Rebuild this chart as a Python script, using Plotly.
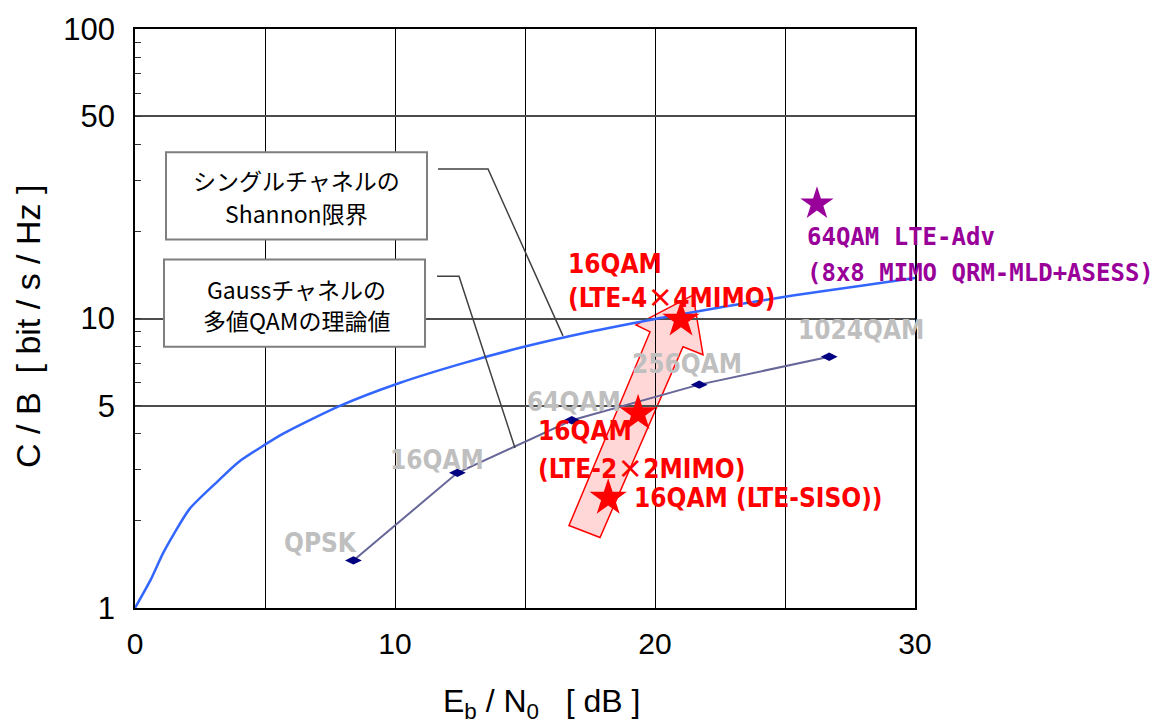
import math
import plotly.graph_objects as go

# ---- data -------------------------------------------------------------
# Shannon limit for a single channel (Eb/N0 [dB] vs C/B [bit/s/Hz])
shannon_ebn0 = [0, 0.6, 1.1, 2.1, 3.2, 4.0, 5.7, 7.9, 10.2, 12.6, 15.0, 17.5, 20.1, 22.7, 25.3, 28.0, 30.0]
shannon_cb = [1.0, 1.25, 1.56, 2.2, 2.75, 3.2, 4.0, 5.0, 6.0, 7.0, 8.0, 9.0, 10.0, 11.0, 12.0, 13.0, 13.8]

# Theoretical multi-level QAM on a Gaussian channel
qam_names = ["QPSK", "16QAM", "64QAM", "256QAM", "1024QAM"]
qam_ebn0 = [8.4, 12.4, 16.8, 21.7, 26.7]
qam_cb = [1.46, 2.93, 4.45, 5.91, 7.38]

# LTE operating points (16QAM: SISO, 2x2 MIMO, 4x4 MIMO)
lte_ebn0 = [18.2, 19.35, 21.0]
lte_cb = [2.40, 4.70, 9.9]

# LTE-Advanced 8x8 MIMO point
adv_ebn0 = [26.23]
adv_cb = [24.9]

y_tick_vals = [1, 5, 10, 50, 100]
y_tick_text = ["1", "5", "10", "50", "100"]
x_tick_vals = [0, 10, 20, 30]
x_tick_text = ["0", "10", "20", "30"]
x_grid_extra = [5, 15, 25]

# ---- layout geometry (pixels) -------------------------------------------
W, H = 1166, 726
PL, PR, PT, PB = 135, 915, 25, 608


def px(xp, yp):
    """Pixel position -> paper coordinates."""
    return (xp - PL) / (PR - PL), (PB - yp) / (PB - PT)


def path_from(points):
    pts = [px(a, b) for a, b in points]
    return "M " + " L ".join(f"{a:.4f},{b:.4f}" for a, b in pts) + " Z"


def open_path(points):
    pts = [px(a, b) for a, b in points]
    return "M " + " L ".join(f"{a:.4f},{b:.4f}" for a, b in pts)


SANS = "Liberation Sans, Arial, sans-serif"
NARROW = "Liberation Sans Narrow, Arial Narrow, DejaVu Sans Condensed, Liberation Sans, sans-serif"
JP = "Noto Sans CJK JP, sans-serif"
MONO = "DejaVu Sans Mono, Liberation Mono, monospace"

fig = go.Figure()

fig.add_trace(go.Scatter(
    x=shannon_ebn0, y=shannon_cb, mode="lines",
    line=dict(color="#3366FF", width=2.5, shape="spline", smoothing=0.6),
    hoverinfo="skip", showlegend=False, cliponaxis=False,
))
fig.add_trace(go.Scatter(
    x=qam_ebn0, y=qam_cb, mode="lines+markers",
    line=dict(color="#666699", width=2),
    marker=dict(symbol="diamond-wide", size=12, color="#000080"),
    hoverinfo="skip", showlegend=False,
))
fig.add_trace(go.Scatter(
    x=lte_ebn0, y=lte_cb, mode="markers",
    marker=dict(symbol="star", size=28, color="#FF0000", line=dict(width=0)),
    hoverinfo="skip", showlegend=False,
))
fig.add_trace(go.Scatter(
    x=adv_ebn0, y=adv_cb, mode="markers",
    marker=dict(symbol="star", size=25, color="#990099", line=dict(width=0)),
    hoverinfo="skip", showlegend=False,
))

shapes = []
# fat arrow showing the MIMO progression
arrow_outline = [(569, 525), (650, 330), (636, 323), (693, 293), (703, 353), (683, 345), (600, 537)]
shapes.append(dict(type="path", xref="paper", yref="paper", path=path_from(arrow_outline),
                   fillcolor="rgba(255,110,110,0.28)", line=dict(color="#FF0000", width=1.5),
                   layer="between"))

# call-out boxes and their leader lines
boxes = [((166, 149), (427, 237)), ((164, 257), (425, 345))]
for (x0, y0), (x1, y1) in boxes:
    a0, b1 = px(x0, y0)
    a1, b0 = px(x1, y1)
    shapes.append(dict(type="rect", xref="paper", yref="paper", x0=a0, x1=a1, y0=b0, y1=b1,
                       fillcolor="white", line=dict(color="#7f7f7f", width=2), layer="above"))
leaders = [[(438, 166), (488, 166), (563, 334)], [(437, 274), (459, 274), (515, 447)]]
for pts in leaders:
    shapes.append(dict(type="path", xref="paper", yref="paper", path=open_path(pts),
                       line=dict(color="#404040", width=1.5), layer="above"))

annotations = []
box_lines = [("シングルチャネルの", 177), ("Shannon限界", 210), ("Gaussチャネルの", 287), ("多値QAMの理論値", 318)]
for txt, yy in box_lines:
    a, b = px(296, yy)
    annotations.append(dict(x=a, y=b, xref="paper", yref="paper", text=txt, showarrow=False,
                            font=dict(family=JP, size=23, color="black"),
                            xanchor="center", yanchor="middle"))

# grey QAM labels, offset from each diamond
qam_offsets = [(-33, 17), (-20, 13), (2, 18), (-12, 21), (32, 27)]
for name, xv, yv, (dx, dy) in zip(qam_names, qam_ebn0, qam_cb, qam_offsets):
    annotations.append(dict(x=xv, y=math.log10(yv), text=f"<b>{name}</b>", showarrow=False,
                            xshift=dx, yshift=dy, xanchor="center", yanchor="middle",
                            font=dict(family=NARROW, size=26, color="#BFBFBF")))

X = "<span style='font-family:Noto Sans CJK JP'>×</span>"
lte_texts = [
    ["<b>16QAM\u00a0(LTE-SISO))</b>"],
    ["<b>16QAM</b>", f"<b>(LTE-2{X}2MIMO)</b>"],
    ["<b>16QAM</b>", f"<b>(LTE-4{X}4MIMO)</b>"],
]
# (x offset, y offset of each line) relative to the star
lte_offsets = [(24, [0]), (-102, [-18, -53]), (-115, [56, 24])]
for lines, xv, yv, (dx, dys) in zip(lte_texts, lte_ebn0, lte_cb, lte_offsets):
    for txt, dy in zip(lines, dys):
        annotations.append(dict(x=xv, y=math.log10(yv), text=txt, showarrow=False,
                                xshift=dx, yshift=dy, xanchor="left", yanchor="middle", align="left",
                                font=dict(family=NARROW, size=26, color="#FF0000")))

adv_lines = ["<b>64QAM LTE-Adv</b>", "<b>(8x8 MIMO QRM-MLD+ASESS)</b>"]
for txt, dy in zip(adv_lines, [-33, -69]):
    annotations.append(dict(x=adv_ebn0[0], y=math.log10(adv_cb[0]), text=txt, showarrow=False,
                            xshift=-12, yshift=dy, xanchor="left", yanchor="middle", align="left",
                            font=dict(family=MONO, size=24, color="#990099")))

# axis titles
a, b = px(541, 704)
annotations.append(dict(x=a, y=b, xref="paper", yref="paper",
                        text="E<sub>b</sub> / N<sub>0</sub>\u00a0\u00a0\u00a0[ dB ]", showarrow=False,
                        xanchor="center", yanchor="middle", font=dict(family=SANS, size=32, color="black")))
a, b = px(28, 324)
annotations.append(dict(x=a, y=b, xref="paper", yref="paper",
                        text="C / B\u00a0\u00a0[ bit / s / Hz ]", showarrow=False, textangle=-90,
                        xanchor="center", yanchor="middle", font=dict(family=SANS, size=34, color="black")))

fig.update_layout(
    width=W, height=H,
    margin=dict(l=PL, r=W - PR, t=PT, b=H - PB),
    paper_bgcolor="white", plot_bgcolor="white",
    showlegend=False,
    shapes=shapes,
    annotations=annotations,
    xaxis=dict(
        range=[0, 30], tickmode="array", tickvals=x_tick_vals, ticktext=x_tick_text,
        showgrid=True, gridcolor="black", gridwidth=1, zeroline=False,
        showline=True, linecolor="black", linewidth=1.5, mirror=True,
        ticks="", ticklabelstandoff=8,
        tickfont=dict(family=SANS, size=30, color="black"),
        minor=dict(tickmode="array", tickvals=x_grid_extra, ticks="",
                   showgrid=True, gridcolor="black", gridwidth=1),
    ),
    yaxis=dict(
        type="log", range=[0, 2], tickmode="array", tickvals=y_tick_vals, ticktext=y_tick_text,
        showgrid=True, gridcolor="#4d4d4d", gridwidth=2, zeroline=False,
        showline=True, linecolor="black", linewidth=1.5, mirror=True,
        ticks="inside", ticklen=6, tickcolor="#333333", ticklabelstandoff=12,
        tickfont=dict(family=SANS, size=31, color="black"),
        minor=dict(tickmode="array", tickvals=[2, 3, 4, 6, 7, 8, 9, 20, 30, 40, 60, 70, 80, 90],
                   ticks="inside", ticklen=6, tickcolor="#333333", showgrid=False),
    ),
)

fig.write_html("out.html")
